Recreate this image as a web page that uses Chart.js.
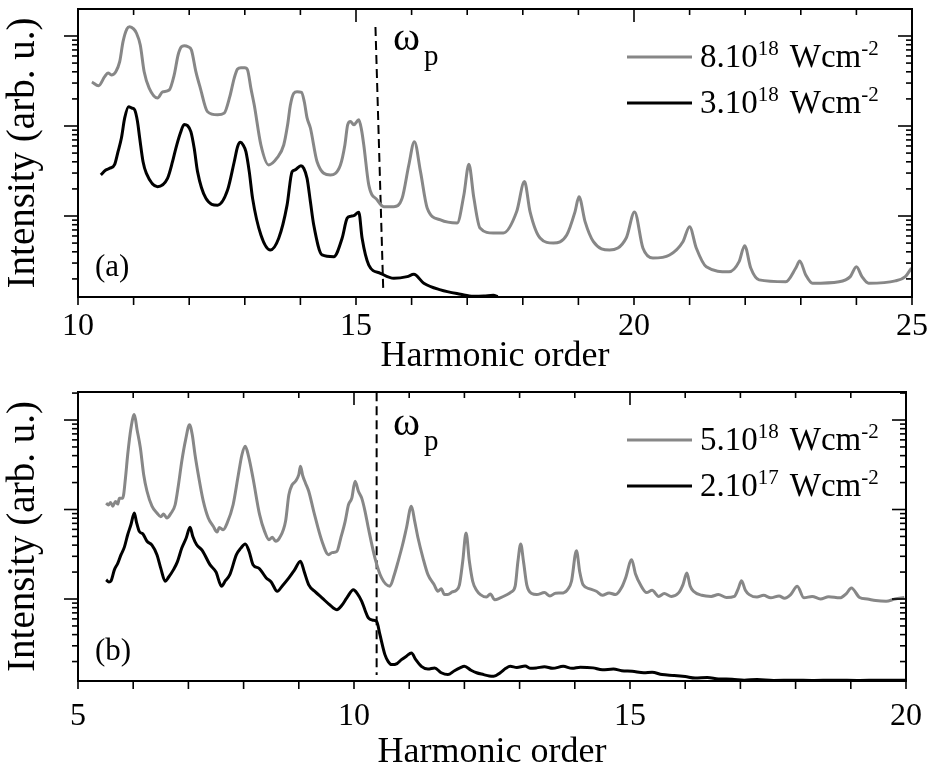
<!DOCTYPE html>
<html>
<head>
<meta charset="utf-8">
<script src="https://cdn.jsdelivr.net/npm/chart.js@4.4.1/dist/chart.umd.min.js"></script>
<style>
  html, body { margin: 0; padding: 0; background: #fff; }
  #wrap { position: relative; width: 938px; height: 771px; }
  .panel { position: absolute; left: 0; width: 938px; }
</style>
</head>
<body>
<div id="wrap">
  <div class="panel" style="top:0;height:385px"><canvas id="chartA" width="938" height="385"></canvas></div>
  <div class="panel" style="top:385px;height:386px"><canvas id="chartB" width="938" height="386"></canvas></div>
</div>
<script>
// panel (a): 8.10^18 W/cm2 (grey) and 3.10^18 W/cm2 (black)
const orderA8 = [10.25,10.37,10.48,10.54,10.60,10.68,10.75,10.81,10.88,10.93,11.00,11.05,11.12,11.19,11.28,11.43,11.52,11.64,11.73,11.80,11.86,11.91,11.98,12.04,12.12,12.20,12.33,12.51,12.63,12.73,12.81,12.87,12.93,13.00,13.05,13.11,13.17,13.29,13.43,13.58,13.70,13.77,13.82,13.88,13.94,14.02,14.07,14.12,14.18,14.30,14.54,14.72,14.80,14.85,14.90,14.96,15.05,15.10,15.14,15.23,15.38,15.50,15.68,15.83,15.95,16.05,16.16,16.28,16.52,16.82,16.94,17.03,17.12,17.23,17.47,17.65,17.89,18.03,18.13,18.31,18.55,18.79,18.94,19.01,19.12,19.27,19.56,19.86,20.01,20.16,20.34,20.64,20.88,21.00,21.12,21.30,21.71,21.89,21.99,22.10,22.25,22.73,22.91,22.98,23.09,23.21,23.69,23.89,24.00,24.10,24.22,24.70,24.88,24.99];
const intA8 = [30.8,28.0,35.3,38.8,36.9,40.1,51.8,86.5,120,127,120,108,79.4,40.1,26.4,20.5,23.9,25.1,36.9,61.5,76.0,78.0,76.0,69.9,40.1,26.4,14.4,13.3,13.9,21.2,34.1,43.0,44.4,44.4,41.9,26.2,17.1,6.15,3.69,4.41,6.15,10.3,17.1,23.1,24.0,23.6,18.6,12.3,9.50,4.01,2.86,3.69,6.15,10.3,11.2,10.3,11.7,9.0,6.15,2.21,1.51,1.27,1.27,1.58,3.69,6.70,3.11,1.23,0.903,0.836,1.71,3.75,1.58,0.736,0.647,0.647,1.12,2.41,1.12,0.570,0.501,0.615,1.12,1.64,0.865,0.518,0.419,0.570,1.11,0.441,0.341,0.369,0.518,0.760,0.441,0.273,0.240,0.311,0.468,0.264,0.195,0.186,0.264,0.316,0.221,0.179,0.186,0.212,0.273,0.212,0.179,0.190,0.212,0.264];
const orderA3 = [10.41,10.50,10.57,10.66,10.72,10.78,10.84,10.91,10.97,11.02,11.07,11.11,11.17,11.23,11.43,11.61,11.70,11.76,11.84,11.91,11.97,12.03,12.09,12.15,12.30,12.51,12.69,12.81,12.87,12.92,12.97,13.02,13.08,13.14,13.29,13.46,13.61,13.76,13.85,13.90,14.01,14.06,14.12,14.18,14.24,14.39,14.60,14.75,14.84,14.90,14.96,15.05,15.11,15.23,15.44,15.68,15.92,16.04,16.22,16.52,16.88,17.11,17.30,17.47,17.55];
const intA3 = [2.86,3.24,3.39,3.75,5.18,7.30,12.3,16.4,15.8,15.1,11.2,7.30,4.01,2.98,2.12,2.62,4.01,5.65,8.30,10.4,10.1,8.65,5.65,3.11,1.57,1.32,1.94,4.01,5.89,6.59,6.15,5.18,3.11,1.57,0.615,0.419,0.565,1.32,3.11,3.24,3.62,3.39,2.62,1.44,0.794,0.369,0.353,0.565,0.942,0.99,1.01,1.10,0.565,0.285,0.231,0.203,0.212,0.225,0.179,0.151,0.135,0.128,0.129,0.132,0.127];
const wpOrderA = [15.35, 15.49];
const wpIntA = [126, 0.151];

// panel (b): 5.10^18 W/cm2 (grey) and 2.10^17 W/cm2 (black)
const orderB5 = [5.51,5.55,5.59,5.63,5.68,5.72,5.75,5.81,5.86,5.90,5.96,6.02,6.07,6.13,6.19,6.25,6.34,6.43,6.50,6.55,6.61,6.68,6.76,6.82,6.88,6.95,7.02,7.07,7.12,7.19,7.27,7.36,7.45,7.52,7.56,7.63,7.70,7.81,7.90,7.97,8.03,8.09,8.17,8.29,8.38,8.46,8.52,8.58,8.65,8.76,8.82,8.88,8.94,9.00,9.03,9.07,9.12,9.18,9.27,9.42,9.54,9.60,9.69,9.76,9.84,9.90,9.96,10.02,10.08,10.14,10.20,10.26,10.38,10.50,10.65,10.73,10.80,10.88,10.95,11.04,11.10,11.16,11.25,11.34,11.45,11.52,11.58,11.64,11.70,11.78,11.85,11.91,11.97,12.03,12.09,12.15,12.22,12.29,12.40,12.47,12.55,12.65,12.75,12.85,12.92,12.97,13.02,13.07,13.13,13.22,13.31,13.45,13.55,13.65,13.79,13.88,13.94,14.03,14.09,14.15,14.27,14.39,14.50,14.62,14.74,14.85,14.92,15.03,15.10,15.19,15.30,15.40,15.52,15.62,15.75,15.88,15.96,16.03,16.09,16.15,16.30,16.47,16.60,16.75,16.89,16.96,17.02,17.09,17.16,17.30,17.42,17.55,17.70,17.80,17.91,18.03,18.15,18.30,18.45,18.60,18.80,18.92,19.01,19.16,19.30,19.45,19.64,19.80,19.97];
const intB5 = [11.8,11.2,12.0,10.9,12.3,11.5,13.4,13.4,22.5,40.9,81.4,115,78.0,48.7,24.5,16.0,10.9,9.14,8.3,8.9,8.04,9.0,11.3,18.9,34.6,60.3,88.5,68.5,40.9,22.5,12.4,8.04,6.49,5.6,6.3,5.94,7.0,11.3,23.5,40.9,50.8,39.3,22.5,8.75,5.70,4.60,4.9,4.42,4.8,7.38,14.6,18.9,20.7,24.5,30.4,24.0,19.8,16.0,9.55,4.42,3.13,3.3,3.41,4.80,7.38,11.3,13.4,20.7,16.0,13.4,9.55,6.21,2.87,1.72,1.39,1.87,2.64,4.04,6.21,10.9,7.38,4.80,2.87,1.87,1.45,1.22,1.30,1.12,1.12,1.20,1.25,1.44,2.64,5.46,2.64,1.58,1.25,1.12,1.05,1.14,0.98,1.03,1.10,1.20,1.39,2.64,4.12,2.64,1.44,1.15,1.12,1.18,1.08,1.16,1.17,1.30,1.58,3.46,2.0,1.44,1.30,1.22,1.10,1.17,1.12,1.35,1.72,2.75,1.9,1.44,1.18,1.25,1.07,1.15,1.07,1.17,1.45,1.95,1.40,1.22,1.10,1.07,1.12,1.04,1.07,1.30,1.60,1.25,1.12,1.05,1.10,1.03,1.08,1.02,1.12,1.39,1.03,1.07,1.00,1.06,1.03,1.15,1.33,1.04,1.00,0.96,0.943,1.00,1.04];
const orderB2 = [5.51,5.56,5.60,5.66,5.72,5.78,5.84,5.90,5.96,6.02,6.06,6.11,6.18,6.25,6.34,6.43,6.50,6.58,6.64,6.73,6.80,6.88,6.96,7.03,7.08,7.15,7.25,7.39,7.50,7.60,7.67,7.75,7.87,7.95,8.03,8.10,8.17,8.28,8.41,8.50,8.61,8.70,8.82,8.92,9.03,9.10,9.18,9.30,9.42,9.55,9.62,9.69,9.78,9.87,9.99,10.06,10.14,10.20,10.26,10.34,10.41,10.47,10.56,10.62,10.68,10.78,10.86,10.95,11.04,11.12,11.22,11.34,11.46,11.58,11.70,11.82,11.92,12.00,12.12,12.22,12.35,12.45,12.53,12.65,12.75,12.83,12.95,13.10,13.20,13.31,13.45,13.60,13.79,13.95,14.10,14.33,14.50,14.70,14.85,15.04,15.25,15.40,15.58,15.80,16.00,16.18,16.40,16.60,16.85,17.07,17.30,17.60,17.97,18.30,18.70,19.16,19.50,19.99];
const intB2 = [1.64,1.55,1.60,2.13,2.5,3.13,3.8,5.23,6.8,9.14,7.2,5.70,5.3,4.42,4.0,3.13,2.2,1.58,1.75,2.13,2.6,3.71,4.8,6.32,5.0,4.04,3.5,2.42,2.0,1.39,1.6,1.87,3.13,3.7,4.12,3.4,2.42,2.2,1.72,1.55,1.22,1.4,1.72,2.1,2.64,2.0,1.44,1.2,1.03,0.87,0.8,0.759,0.85,1.03,1.27,1.15,0.943,0.75,0.614,0.58,0.563,0.399,0.239,0.20,0.185,0.19,0.210,0.23,0.249,0.21,0.177,0.165,0.170,0.150,0.143,0.158,0.170,0.177,0.160,0.150,0.143,0.138,0.137,0.150,0.168,0.177,0.172,0.178,0.168,0.170,0.175,0.168,0.177,0.168,0.173,0.170,0.162,0.165,0.158,0.156,0.150,0.152,0.143,0.140,0.136,0.131,0.133,0.128,0.127,0.124,0.126,0.123,0.124,0.123,0.124,0.123,0.124,0.124];
const wpOrderB = [10.41, 10.41];
const wpIntB = [204, 0.142];

// labelled x ticks and legend texts (normal / superscript pieces)
const xLabelsA = [10, 15, 20, 25];
const xLabelsB = [5, 10, 15, 20];
const legendA = [["8.10", "18", "Wcm", "-2"], ["3.10", "18", "Wcm", "-2"]];
const legendB = [["5.10", "18", "Wcm", "-2"], ["2.10", "17", "Wcm", "-2"]];

const SERIF = "'Liberation Serif', 'Times New Roman', serif";
const GREY = "#878787";
Chart.defaults.font.family = SERIF;
Chart.defaults.color = "#000";

const pts = (xs, ys) => xs.map((x, i) => ({ x: x, y: ys[i] }));

// frame, ticks, legend with superscripts, annotations
const decoPlugin = {
  id: "deco",
  afterDatasetsDraw(chart, args, opts) {
    const { ctx, chartArea: a, scales } = chart;
    const x = scales.x, y = scales.y;
    const seg = (x1, y1, x2, y2) => { ctx.beginPath(); ctx.moveTo(x1, y1); ctx.lineTo(x2, y2); ctx.stroke(); };
    ctx.save();
    ctx.strokeStyle = "#000";
    ctx.lineWidth = 2;
    ctx.strokeRect(a.left, a.top, a.right - a.left, a.bottom - a.top);

    // x: ticks hang below the bottom axis, and below the top (mirror) axis
    ctx.lineWidth = 1.6;
    for (let v = Math.ceil(x.min); v <= x.max; v++) {
      const px = x.getPixelForValue(v);
      const lab = opts.xLabels.includes(v);
      seg(px, a.bottom, px, a.bottom + 8);
      seg(px, a.top, px, a.top + (lab ? 13 : 6));
    }
    // y: log ticks, outward on the left, inward on the right
    const d0 = Math.floor(Math.log10(y.min)), d1 = Math.ceil(Math.log10(y.max));
    for (let d = d0; d <= d1; d++) {
      for (let k = 1; k < 10; k++) {
        const v = k * Math.pow(10, d);
        if (v < y.min || v > y.max) continue;
        const py = y.getPixelForValue(v);
        const major = k === 1;
        seg(a.left - (major ? 14 : 6), py, a.left, py);
        seg(a.right, py, a.right - (major ? 14 : 6), py);
      }
    }

    // legend
    ctx.fillStyle = "#000";
    ctx.textBaseline = "alphabetic";
    ctx.textAlign = "left";
    opts.legend.forEach((parts, i) => {
      const ds = chart.data.datasets[i];
      const rowY = opts.legendY + i * 46;
      ctx.strokeStyle = ds.borderColor;
      ctx.lineWidth = 3;
      seg(627, rowY, 692, rowY);
      let tx = 700;
      parts.forEach((p, j) => {
        const sup = j % 2 === 1;
        ctx.font = (sup ? "21px " : "33px ") + SERIF;
        if (j === 2) tx += 11;
        ctx.fillText(p, tx, sup ? rowY - 2 : rowY + 10);
        tx += ctx.measureText(p).width;
      });
    });

    // omega_p and panel letter
    ctx.font = "41px " + SERIF;
    ctx.fillText("ω", 393, 50);
    ctx.font = "29px " + SERIF;
    ctx.fillText("p", 424, 65);
    ctx.font = "31px " + SERIF;
    ctx.fillText(opts.panel, 95, opts.panelY);
    ctx.restore();
  }
};

function makeChart(id, s) {
  return new Chart(document.getElementById(id), {
    type: "line",
    data: {
      datasets: [
        { label: s.names[0], data: s.grey, borderColor: GREY, borderWidth: 3 },
        { label: s.names[1], data: s.black, borderColor: "#000", borderWidth: 3 },
        { label: "ωp", data: s.wp, borderColor: "#000", borderWidth: 2, borderDash: [9, 5], cubicInterpolationMode: "default", tension: 0 }
      ]
    },
    options: {
      responsive: false,
      animation: false,
      events: [],
      layout: { padding: { top: s.top, right: 23, left: 0, bottom: 0 } },
      elements: {
        point: { radius: 0 },
        line: { cubicInterpolationMode: "monotone", fill: false }
      },
      scales: {
        x: {
          type: "linear",
          min: s.xmin,
          max: s.xmax,
          grid: { display: false, drawTicks: false },
          border: { display: false },
          ticks: {
            stepSize: 1,
            autoSkip: false,
            maxRotation: 0,
            padding: s.tickPad,
            font: { size: 32 },
            color: "#000",
            callback: v => s.xLabels.includes(v) ? String(v) : ""
          },
          title: {
            display: true,
            text: "Harmonic order",
            font: { size: 36, lineHeight: 1 },
            padding: { top: 0, bottom: s.titlePad }
          },
          afterFit: sc => { sc.height = s.axisH; }
        },
        y: {
          type: "logarithmic",
          min: s.ymin,
          max: s.ymax,
          grid: { display: false, drawTicks: false },
          border: { display: false },
          ticks: { display: false },
          title: {
            display: true,
            text: "Intensity (arb. u.)",
            font: { size: 39, lineHeight: 1 },
            padding: { top: 4, bottom: 0 }
          },
          afterFit: sc => { sc.width = 78; }
        }
      },
      plugins: {
        legend: { display: false },
        tooltip: { enabled: false },
        deco: { xLabels: s.xLabels, legend: s.legend, legendY: s.legendY, panel: s.panel, panelY: s.panelY }
      }
    },
    plugins: [decoPlugin]
  });
}

makeChart("chartA", {
  names: ["8.10^18 Wcm^-2", "3.10^18 Wcm^-2"],
  grey: pts(orderA8, intA8),
  black: pts(orderA3, intA3),
  wp: pts(wpOrderA, wpIntA),
  xmin: 10, xmax: 25,
  ymin: 0.1259, ymax: 199.5,
  xLabels: xLabelsA,
  legend: legendA, legendY: 57,
  panel: "(a)", panelY: 276,
  top: 9, axisH: 88, tickPad: 10, titlePad: 10
});

makeChart("chartB", {
  names: ["5.10^18 Wcm^-2", "2.10^17 Wcm^-2"],
  grey: pts(orderB5, intB5),
  black: pts(orderB2, intB2),
  wp: pts(wpOrderB, wpIntB),
  xmin: 5, xmax: 20,
  ymin: 0.1213, ymax: 205.6,
  xLabels: xLabelsB,
  legend: legendB, legendY: 55,
  panel: "(b)", panelY: 275,
  top: 7, axisH: 90, tickPad: 16, titlePad: 0
});
</script>
</body>
</html>
